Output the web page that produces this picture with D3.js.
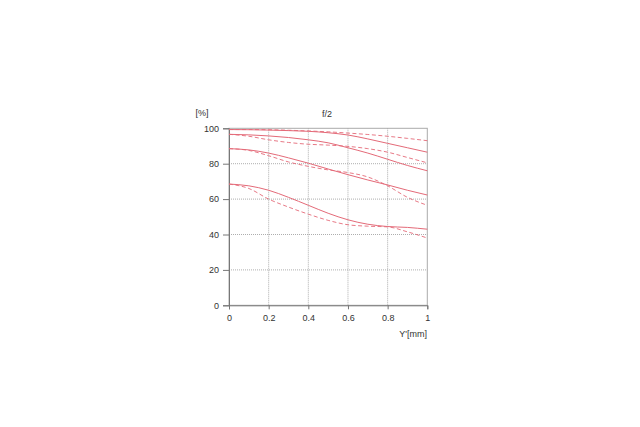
<!DOCTYPE html>
<html><head><meta charset="utf-8">
<script src="https://cdn.jsdelivr.net/npm/d3@7/dist/d3.min.js"></script>
<style>body{margin:0;background:#fff}text{font-family:"Liberation Sans",Arial,sans-serif}</style>
</head><body><svg id="c" width="640" height="427"></svg>
<script>
const xPos = [0,0.1,0.2,0.3,0.4,0.5,0.6,0.7,0.8,0.9,1];
const s1 = [99.3,99.2,99,98.7,98.3,97.5,96.2,94,91.5,89,86.5];
const d1 = [99.3,99.3,99.2,98.9,98.5,98,97.3,96.5,95.5,94.3,93];
const s2 = [96.6,96.3,95.7,94.8,93.5,91.8,89,86,82.5,79,76];
const d2 = [96.6,95.5,93.5,92,91,90.5,89.8,88.5,86.5,83.5,80.5];
const s3 = [88.5,87.8,86,83.3,80.3,77,73.8,70.8,68,65,62.3];
const d3v = [88.5,87.5,84.5,81,78.5,76.5,75,72.5,67.5,61,56.5];
const s4 = [68.5,67.5,65,61,56.5,52,48.3,45.8,44.5,44,43];
const d4 = [68.5,66,60,55.5,51.5,48,45.5,44.7,44.3,41.5,38];
const solidSeries = [s1,s2,s3,s4];
const dashedSeries = [d1,d2,d3v,d4];
const xTicks = [0,0.2,0.4,0.6,0.8,1];
const yTicks = [0,20,40,60,80,100];
const title = "f/2", yUnit = "[%]", xUnit = "Y'[mm]";

const svg = d3.select("#c");
const x = d3.scaleLinear().domain([0,1]).range([229,427.3]);
const y = d3.scaleLinear().domain([0,100]).range([305.3,128.3]);
const grid = "#999", txt = "#333";

svg.append("g").selectAll("line").data(xTicks.slice(1,-1)).join("line")
  .attr("x1",d=>x(d)).attr("x2",d=>x(d)).attr("y1",y(0)).attr("y2",y(100))
  .attr("stroke",grid).attr("stroke-width",0.8).attr("stroke-dasharray","1,1");
svg.append("g").selectAll("line").data(yTicks.slice(1,-1)).join("line")
  .attr("y1",d=>y(d)).attr("y2",d=>y(d)).attr("x1",x(0)).attr("x2",x(1))
  .attr("stroke",grid).attr("stroke-width",0.8).attr("stroke-dasharray","1,1");
svg.append("rect").attr("x",x(0)).attr("y",y(100)).attr("width",x(1)-x(0)).attr("height",y(0)-y(100))
  .attr("fill","none").attr("stroke","#aaa").attr("stroke-width",1);

const ax = svg.append("g").attr("transform",`translate(0,${y(0)})`)
  .call(d3.axisBottom(x).tickValues(xTicks).tickFormat(d=>d3.format("")(d)).tickSize(4).tickPadding(5));
const ay = svg.append("g").attr("transform",`translate(${x(0)},0)`)
  .call(d3.axisLeft(y).tickValues(yTicks).tickSize(6).tickPadding(4));
[ax,ay].forEach(a=>{
  a.select(".domain").attr("stroke","#777");
  a.selectAll(".tick line").attr("stroke","#777");
  a.selectAll("text").attr("fill",txt).attr("font-size",9);
});

const line = d3.line().x((d,i)=>x(xPos[i])).y(d=>y(d)).curve(d3.curveMonotoneX);
const col = "#e46a78";
svg.append("g").selectAll("path").data(solidSeries).join("path")
  .attr("d",line).attr("fill","none").attr("stroke",col).attr("stroke-width",1);
svg.append("g").selectAll("path").data(dashedSeries).join("path")
  .attr("d",line).attr("fill","none").attr("stroke",col).attr("stroke-width",0.9).attr("stroke-dasharray","4,2.5");

svg.append("text").attr("x",202).attr("y",116).attr("text-anchor","middle").attr("font-size",9).attr("fill",txt).text(yUnit);
svg.append("text").attr("x",327).attr("y",117).attr("text-anchor","middle").attr("font-size",9).attr("fill",txt).text(title);
svg.append("text").attr("x",427).attr("y",337).attr("text-anchor","end").attr("font-size",9).attr("fill",txt).text(xUnit);
</script></body></html>
